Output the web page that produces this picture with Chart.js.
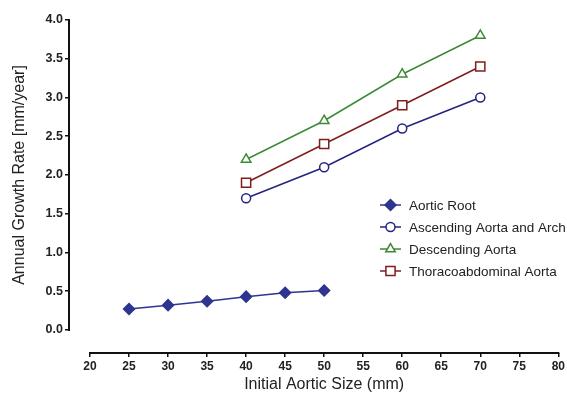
<!DOCTYPE html>
<html>
<head>
<meta charset="utf-8">
<script src="https://cdn.jsdelivr.net/npm/chart.js@4.4.0/dist/chart.umd.min.js"></script>
<style>
  html, body { margin: 0; padding: 0; background: #fff; }
  #wrap { width: 567px; height: 396px; }
</style>
</head>
<body>
<div id="wrap"><canvas id="growthChart" width="567" height="396"></canvas></div>
<script>
// values
const rootSizes = [25, 30, 35, 40, 45, 50];
const rootRate = [0.27, 0.32, 0.37, 0.43, 0.48, 0.51];
const segSizes = [40, 50, 60, 70];
const ascendingRate = [1.7, 2.1, 2.6, 3.0];
const descendingRate = [2.2, 2.7, 3.3, 3.8];
const thoracoRate = [1.9, 2.4, 2.9, 3.4];
const xTickValues = [20, 25, 30, 35, 40, 45, 50, 55, 60, 65, 70, 75, 80];
const yTickValues = [0, 0.5, 1.0, 1.5, 2.0, 2.5, 3.0, 3.5, 4.0];

const toPoints = (xs, ys) => xs.map((x, i) => ({ x: x, y: ys[i] }));
const FONT = "Arial, 'Liberation Sans', sans-serif";

const series = [
  { label: 'Aortic Root', data: toPoints(rootSizes, rootRate), color: '#2e3590', style: 'rectRot', r: 5.5, fill: true },
  { label: 'Ascending Aorta and Arch', data: toPoints(segSizes, ascendingRate), color: '#25237f', style: 'circle', r: 4.5, fill: false },
  { label: 'Descending Aorta', data: toPoints(segSizes, descendingRate), color: '#3b8a35', style: 'triangle', r: 5.5, fill: false },
  { label: 'Thoracoabdominal Aorta', data: toPoints(segSizes, thoracoRate), color: '#7f1e1e', style: 'rect', r: 6.5, fill: false },
];

// prism-style detached axes + legend + axis titles
const prismAxes = {
  id: 'prismAxes',
  afterDraw(chart) {
    const ctx = chart.ctx;
    const xs = chart.scales.x, ys = chart.scales.y;
    const area = chart.chartArea;
    ctx.save();
    ctx.strokeStyle = '#111';
    ctx.lineWidth = 2;
    ctx.beginPath();
    ctx.moveTo(area.left, ys.getPixelForValue(yTickValues[0]) + 1);
    ctx.lineTo(area.left, ys.getPixelForValue(yTickValues[yTickValues.length - 1]) - 1);
    ctx.moveTo(xs.getPixelForValue(xTickValues[0]) - 1, area.bottom);
    ctx.lineTo(xs.getPixelForValue(xTickValues[xTickValues.length - 1]) + 1, area.bottom);
    ctx.stroke();

    // axis titles
    ctx.fillStyle = '#222';
    ctx.font = '16px ' + FONT;
    ctx.textAlign = 'center';
    ctx.textBaseline = 'middle';
    const xMid = (xs.getPixelForValue(xTickValues[0]) + xs.getPixelForValue(xTickValues[xTickValues.length - 1])) / 2;
    ctx.fillText('Initial Aortic Size (mm)', xMid, 385);
    const yMid = (ys.getPixelForValue(yTickValues[0]) + ys.getPixelForValue(yTickValues[yTickValues.length - 1])) / 2;
    ctx.save();
    ctx.translate(20, yMid);
    ctx.rotate(-Math.PI / 2);
    ctx.fillText('Annual Growth Rate [mm/year]', 0, 0);
    ctx.restore();

    // legend
    ctx.font = '13.5px ' + FONT;
    ctx.textAlign = 'left';
    chart.data.datasets.forEach((ds, i) => {
      const cy = 205 + i * 22;
      ctx.strokeStyle = ds.borderColor;
      ctx.lineWidth = 1.5;
      ctx.beginPath();
      ctx.moveTo(380, cy);
      ctx.lineTo(401, cy);
      ctx.stroke();
      ctx.fillStyle = ds.pointBackgroundColor;
      ctx.strokeStyle = ds.pointBorderColor;
      ctx.lineWidth = ds.pointBorderWidth;
      Chart.helpers.drawPoint(ctx, { pointStyle: ds.pointStyle, radius: ds.pointRadius, rotation: 0, borderWidth: ds.pointBorderWidth }, 390.5, cy);
      ctx.fillStyle = '#222';
      ctx.fillText(ds.label, 409, cy + 1);
    });
    ctx.restore();
  }
};

new Chart(document.getElementById('growthChart'), {
  type: 'line',
  data: {
    datasets: series.map(s => ({
      label: s.label,
      data: s.data,
      borderColor: s.color,
      borderWidth: 1.5,
      pointStyle: s.style,
      pointRadius: s.r,
      pointHoverRadius: s.r,
      pointBorderWidth: 1.5,
      pointBorderColor: s.color,
      pointBackgroundColor: s.fill ? s.color : '#ffffff',
      tension: 0,
      fill: false,
      clip: false,
    })),
  },
  options: {
    responsive: false,
    animation: false,
    layout: { padding: { top: 20, right: 8, left: 0, bottom: 0 } },
    plugins: { legend: { display: false }, tooltip: { enabled: false } },
    scales: {
      x: {
        type: 'linear',
        min: 17.31,
        max: 80,
        afterBuildTicks: scale => { scale.ticks = xTickValues.map(v => ({ value: v })); },
        afterFit: scale => { scale.height = 43; },
        border: { display: false },
        grid: { drawOnChartArea: false, drawTicks: true, tickLength: 4, color: '#111', lineWidth: 1.5 },
        ticks: {
          padding: 2,
          color: '#222',
          font: { family: FONT, size: 12, weight: 'bold' },
          maxRotation: 0,
          callback: v => String(v),
        },
      },
      y: {
        type: 'linear',
        min: -0.297,
        max: 4.0,
        afterBuildTicks: scale => { scale.ticks = yTickValues.map(v => ({ value: v })); },
        afterFit: scale => { scale.width = 69; },
        border: { display: false },
        grid: { drawOnChartArea: false, drawTicks: true, tickLength: 4, color: '#111', lineWidth: 1.5 },
        ticks: {
          padding: 2,
          color: '#222',
          font: { family: FONT, size: 12.5, weight: 'bold' },
          callback: v => Number(v).toFixed(1),
        },
      },
    },
  },
  plugins: [prismAxes],
});
</script>
</body>
</html>
